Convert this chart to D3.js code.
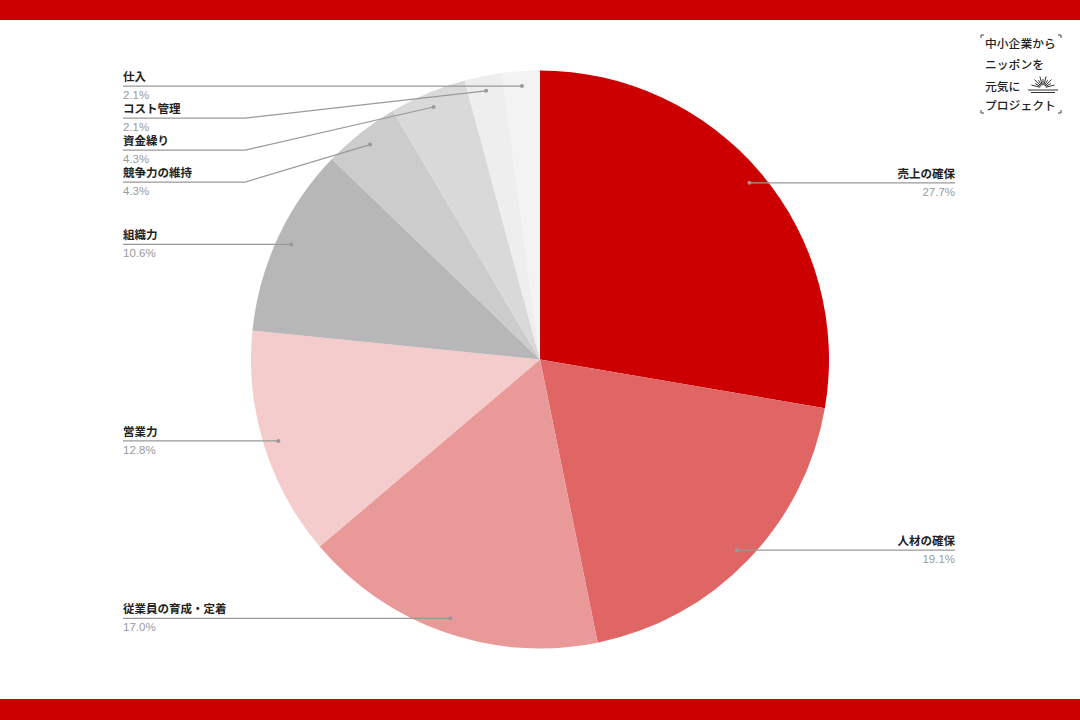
<!DOCTYPE html>
<html><head><meta charset="utf-8">
<script src="https://cdn.jsdelivr.net/npm/d3@7/dist/d3.min.js"></script>
<style>body{margin:0;background:#fff;}svg{display:block;}</style>
</head><body>
<svg id="c" width="1080" height="720"></svg>
<script>
const categories = ["売上の確保","人材の確保","従業員の育成・定着","営業力","組織力","競争力の維持","資金繰り","コスト管理","仕入"];
const values = [27.7,19.1,17.0,12.8,10.6,4.3,4.3,2.1,2.1];
const percentLabels = ["27.7%","19.1%","17.0%","12.8%","10.6%","4.3%","4.3%","2.1%","2.1%"];
const palette = ["#cc0000","#e06666","#ea9999","#f4cccc","#b7b7b7","#cccccc","#d9d9d9","#eeeeee","#f3f3f3"];
const logoLines = ["中小企業から","ニッポンを","元気に","プロジェクト"];

const svg = d3.select("#c");
svg.append("rect").attr("x",0).attr("y",0).attr("width",1080).attr("height",20).attr("fill","#cc0000");
svg.append("rect").attr("x",0).attr("y",699).attr("width",1080).attr("height",21).attr("fill","#cc0000");

const cx = 540, cy = 359.5, R = 289, rDot = 274;
const data = categories.map((c,i)=>({name:c,value:values[i],pct:percentLabels[i],color:palette[i]}));
const pie = d3.pie().value(d=>d.value).sort(null);
const arcs = pie(data);
const arc = d3.arc().innerRadius(0).outerRadius(R);
const g = svg.append("g").attr("transform",`translate(${cx},${cy})`);
g.selectAll("path").data(arcs).join("path").attr("d",arc).attr("fill",d=>d.data.color);

// label layout
const labels = arcs.map(a=>{
  const m = (a.startAngle+a.endAngle)/2;
  const x = cx + rDot*Math.sin(m), y = cy - rDot*Math.cos(m);
  return {a, x, y, side: x < cx ? "L" : "R", ly: y};
});
["L","R"].forEach(side=>{
  const s = labels.filter(l=>l.side===side).sort((p,q)=>p.y-q.y);
  let prev = -Infinity;
  s.forEach(l=>{ l.ly = Math.max(l.y, prev+32); prev = l.ly; });
});
const lg = svg.append("g");
labels.forEach(l=>{
  const L = l.side==="L";
  const endX = L ? 123 : 955;
  const elbowX = L ? 245 : 835;
  let pts;
  if (Math.abs(l.ly - l.y) < 1) pts = [[l.x,l.y],[endX,l.y]];
  else pts = [[l.x,l.y],[elbowX,l.ly],[endX,l.ly]];
  lg.append("path").attr("d",d3.line()(pts)).attr("fill","none").attr("stroke","#999").attr("stroke-width",1.2);
  lg.append("circle").attr("cx",l.x).attr("cy",l.y).attr("r",2).attr("fill","#999");
  lg.append("text").attr("x",endX).attr("y",l.ly-5).attr("text-anchor",L?"start":"end")
    .attr("font-family","'Noto Sans CJK JP', sans-serif").attr("font-size",11.5).attr("font-weight","bold")
    .attr("fill","#222").text(l.a.data.name);
  lg.append("text").attr("x",endX).attr("y",l.ly+13).attr("text-anchor",L?"start":"end")
    .attr("font-family","'Liberation Sans', Arial, sans-serif").attr("font-size",11.5)
    .attr("fill","#9a9a9a").text(l.a.data.pct);
});

// logo
const logo = svg.append("g");
const cm = [[981,35,1,1],[1061,35,-1,1],[981,113,1,-1],[1061,113,-1,-1]];
cm.forEach(([x,y,dx,dy])=>{
  logo.append("path").attr("d",`M${x+dx*3},${y}H${x}V${y+dy*3}`).attr("fill","none").attr("stroke","#444").attr("stroke-width",1);
});
const lys = [47.5,68.5,90.5,109.5];
logoLines.forEach((t,i)=>{
  logo.append("text").attr("x",985).attr("y",lys[i]).attr("font-family","'Noto Sans CJK JP', sans-serif")
    .attr("font-size",11.8).attr("font-weight",500).attr("fill","#222").text(t);
});
// sun icon
const sx=1043, sy=90;
logo.append("line").attr("x1",1028).attr("x2",1058).attr("y1",sy).attr("y2",sy).attr("stroke","#333").attr("stroke-width",1);
logo.append("line").attr("x1",1031).attr("x2",1055).attr("y1",sy+2.5).attr("y2",sy+2.5).attr("stroke","#333").attr("stroke-width",1);
d3.range(11).forEach(k=>{
  const ang = Math.PI*(0.08 + 0.84*k/10);
  const r0=3, r1 = (k%2? 9:12);
  logo.append("line").attr("x1",sx-r0*Math.cos(ang)).attr("y1",sy-2-r0*Math.sin(ang))
    .attr("x2",sx-r1*Math.cos(ang)).attr("y2",sy-2-r1*Math.sin(ang)).attr("stroke","#333").attr("stroke-width",1);
});
</script>
</body></html>
